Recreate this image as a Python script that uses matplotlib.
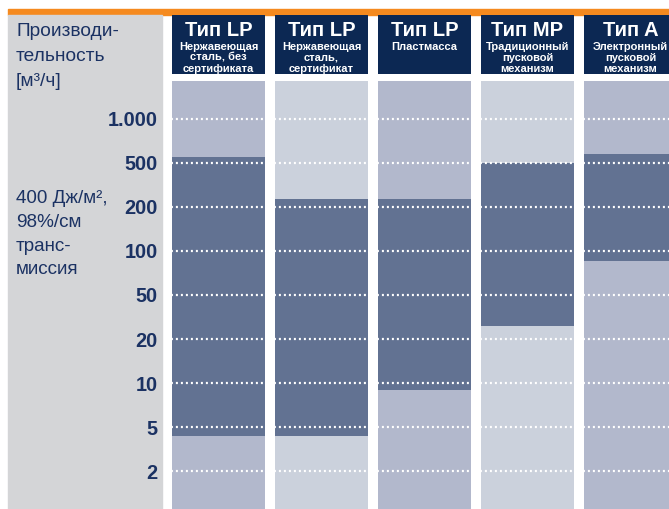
import numpy as np
import matplotlib.pyplot as plt
from matplotlib.patches import Rectangle
from matplotlib.transforms import blended_transform_factory

plt.rcParams['font.family'] = ['Liberation Sans', 'DejaVu Sans']

# Data
tick_values = [2, 5, 10, 20, 50, 100, 200, 500, 1000]
tick_labels = ['2', '5', '10', '20', '50', '100', '200', '500', '1.000']
titles = ['Тип LP', 'Тип LP', 'Тип LP', 'Тип MP', 'Тип A']
subtitles = [
    'Нержавеющая\nсталь, без\nсертификата',
    'Нержавеющая\nсталь,\nсертификат',
    'Пластмасса',
    'Традиционный\nпусковой\nмеханизм',
    'Электронный\nпусковой\nмеханизм',
]
range_low = [4.2, 4.2, 9, 26, 85]
range_high = [550, 235, 235, 500, 575]

# Colours
NAVY = '#0c2853'
TEXT = '#1b3263'
ORANGE = '#f58a1f'
PANEL = '#d4d5d7'
DARK = '#627292'
BG = ['#b2b8cc', '#cbd1dc']

W, H = 669, 509
fig = plt.figure(figsize=(W / 100, H / 100), dpi=100)


def fx(px):
    return px / W


def fy(px):
    return 1 - px / H


# orange rule and grey left panel
fig.patches.append(Rectangle((fx(8), fy(14.7)), fx(W) - fx(8), fy(9.3) - fy(14.7),
                             transform=fig.transFigure, color=ORANGE, zorder=-1))
fig.patches.append(Rectangle((fx(8), fy(H)), fx(162) - fx(8), fy(14.7) - fy(H),
                             transform=fig.transFigure, color=PANEL, zorder=-1))

# column geometry (pitch 103 px, width 93 px, first column starts at 172 px)
pitch, width = 103.0, 93.0
c0 = 172 + width / 2
x_lo = (162 - c0) / pitch
x_hi = (W - c0) / pitch
bw = width / pitch
xs = np.arange(len(titles))


def to_level(v):
    return np.interp(np.log10(v), np.log10(tick_values), np.arange(len(tick_values)))


# body axes
ax = fig.add_axes([fx(162), fy(H), fx(W) - fx(162), fy(81) - fy(H)])
pad = 0.857
ymin, ymax = -pad, len(tick_values) - 1 + pad
ax.set_xlim(x_lo, x_hi)
ax.set_ylim(ymin, ymax)
bg_cols = [BG[i % 2] for i in range(len(titles))]
ax.bar(xs, ymax - ymin, bottom=ymin, width=bw, color=bg_cols, zorder=1)
lo = to_level(range_low)
hi = to_level(range_high)
ax.bar(xs, hi - lo, bottom=lo, width=bw, color=DARK, zorder=2)
for lvl in range(len(tick_values)):
    ax.hlines(np.full(len(xs), lvl), xs - bw / 2, xs + bw / 2, colors='white',
              linewidth=1.6, linestyles=(0.5, (0.9, 1.35)), zorder=3)
ax.set_yticks(np.arange(len(tick_values)))
ax.set_yticklabels(tick_labels, fontsize=14.3, fontweight='bold', color=TEXT)
ax.tick_params(axis='y', length=0, pad=3)
ax.set_xticks([])
for s in ax.spines.values():
    s.set_visible(False)
ax.set_facecolor('none')

# header axes
hx = fig.add_axes([fx(162), fy(74), fx(W) - fx(162), fy(15) - fy(74)])
hx.set_xlim(x_lo, x_hi)
hx.set_ylim(0, 1)
hx.bar(xs, 1, width=bw, color=NAVY)
hx.axis('off')
tr = blended_transform_factory(hx.transData, hx.transAxes)
for i in xs:
    hx.text(i, 0.74, titles[i], transform=tr, ha='center', va='center',
            color='white', fontsize=14.6, fontweight='bold')
    hx.text(i, 0.545, subtitles[i], transform=tr, ha='center', va='top',
            color='white', fontsize=8, fontweight='bold', linespacing=1.12)

# left panel texts
fig.text(fx(16), fy(23), 'Производи-\nтельность\n[м³/ч]', ha='left', va='top',
         color=TEXT, fontsize=13.8, linespacing=1.63)
fig.text(fx(16), fy(190), '400 Дж/м²,\n98%/см\nтранс-\nмиссия', ha='left', va='top',
         color=TEXT, fontsize=13.6, linespacing=1.52)

fig.savefig('out.png', dpi=100)
